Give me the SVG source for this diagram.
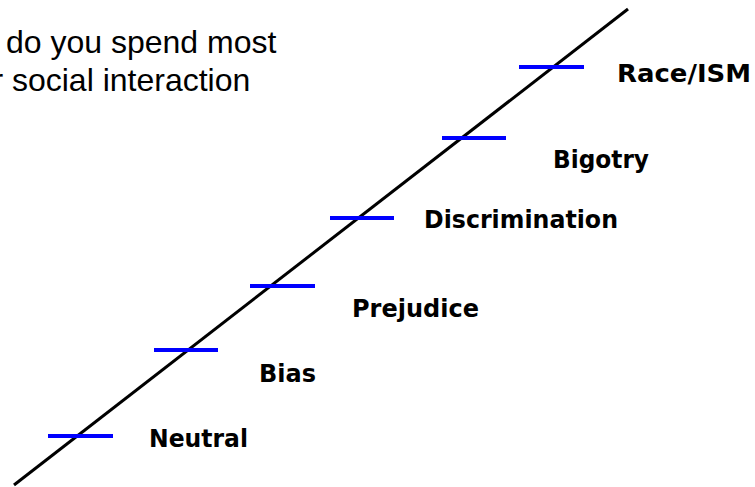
<svg xmlns="http://www.w3.org/2000/svg" width="755" height="487" viewBox="0 0 755 487">
<style>
.q{font-family:"Liberation Sans",Arial,sans-serif;font-size:32px;fill:#000}
.lbl{font-family:"DejaVu Sans",Verdana,sans-serif;font-weight:bold;font-size:25.5px;fill:#000}
.tick{stroke:#0000FF;stroke-width:4;fill:none}
.axis{stroke:#000;stroke-width:3;fill:none}
</style>
<rect width="755" height="487" fill="#fff"/>
<g id="question">
<text class="q" x="6" y="53">do you spend most</text>
<text class="q" x="-7.6" y="91">r social interaction</text>
</g>
<g id="connectors">
<line class="axis" x1="14" y1="485" x2="628" y2="9"/>
</g>
<g id="neutral">
<line class="tick" x1="48" y1="436" x2="113" y2="436"/>
<text class="lbl" x="149" y="447" textLength="99" lengthAdjust="spacingAndGlyphs">Neutral</text>
</g>
<g id="bias">
<line class="tick" x1="154" y1="350" x2="218" y2="350"/>
<text class="lbl" x="259" y="381.5" textLength="57" lengthAdjust="spacingAndGlyphs">Bias</text>
</g>
<g id="prejudice">
<line class="tick" x1="250" y1="286" x2="315" y2="286"/>
<text class="lbl" x="352" y="317" textLength="127" lengthAdjust="spacingAndGlyphs">Prejudice</text>
</g>
<g id="discrimination">
<line class="tick" x1="330" y1="218" x2="394" y2="218"/>
<text class="lbl" x="424" y="228" textLength="194" lengthAdjust="spacingAndGlyphs">Discrimination</text>
</g>
<g id="bigotry">
<line class="tick" x1="442" y1="138" x2="506" y2="138"/>
<text class="lbl" x="553" y="168" textLength="96" lengthAdjust="spacingAndGlyphs">Bigotry</text>
</g>
<g id="race-ism">
<line class="tick" x1="519" y1="67" x2="584" y2="67"/>
<text class="lbl" x="617" y="82" textLength="134" lengthAdjust="spacingAndGlyphs">Race/ISM</text>
</g>
</svg>
